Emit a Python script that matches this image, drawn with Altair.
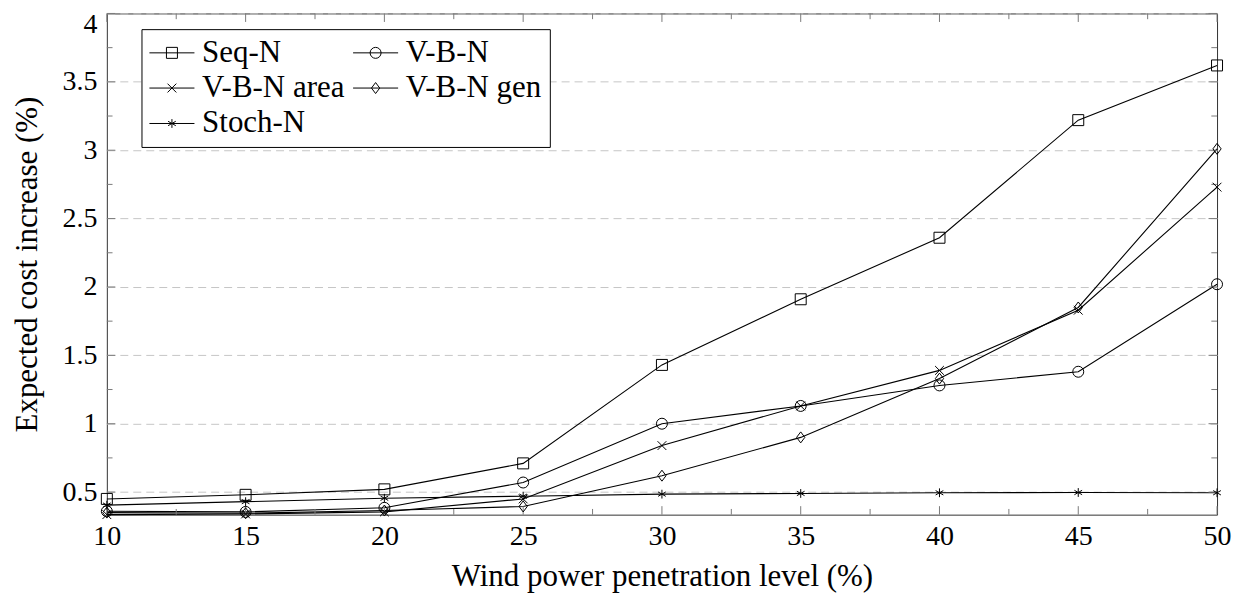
import altair as alt
import pandas as pd

# ---------------- data ----------------
x_levels = [10, 15, 20, 25, 30, 35, 40, 45, 50]
series_names = ["Seq-N", "V-B-N", "V-B-N area", "V-B-N gen", "Stoch-N"]
seq_n = [0.45, 0.48, 0.52, 0.71, 1.43, 1.91, 2.36, 3.22, 3.62]
vbn = [0.36, 0.355, 0.385, 0.57, 1.00, 1.13, 1.28, 1.38, 2.02]
vbn_area = [0.335, 0.34, 0.355, 0.45, 0.84, 1.13, 1.39, 1.83, 2.73]
vbn_gen = [0.35, 0.345, 0.365, 0.395, 0.62, 0.90, 1.33, 1.85, 3.01]
stoch_n = [0.405, 0.43, 0.455, 0.47, 0.485, 0.49, 0.495, 0.497, 0.495]

x_ticks = [10, 15, 20, 25, 30, 35, 40, 45, 50]
x_minor = [12.5, 17.5, 22.5, 27.5, 32.5, 37.5, 42.5, 47.5]
y_ticks = [0.5, 1, 1.5, 2, 2.5, 3, 3.5, 4]
y_minor = [0.75, 1.25, 1.75, 2.25, 2.75, 3.25, 3.75]
x_title = "Wind power penetration level (%)"
y_title = "Expected cost increase (%)"

all_series = [seq_n, vbn, vbn_area, vbn_gen, stoch_n]
rows = []
for name, vals in zip(series_names, all_series):
    for xv, yv in zip(x_levels, vals):
        rows.append({"level": xv, "cost": yv, "series": name})
df = pd.DataFrame(rows)

# ---------------- styling ----------------
FONT = "Liberation Serif, DejaVu Serif, serif"
W, H = 1112, 502
y_min = min(min(v) for v in all_series)

marker_paths = [
    "M-1,-1L1,-1L1,1L-1,1Z",                                   # square
    "M1,0A1,1,0,1,1,-1,0A1,1,0,1,1,1,0Z",                      # circle
    "M-0.8,-0.8L0.8,0.8M-0.8,0.8L0.8,-0.8",                    # x
    "M0,-1L0.75,0L0,1L-0.75,0Z",                               # diamond
    "M0,-0.8L0,0.8M-0.7,-0.4L0.7,0.4M-0.7,0.4L0.7,-0.4",       # asterisk
]
legend_paths = ["M-4.1,0L4.1,0" + p for p in marker_paths]

xscale = alt.Scale(domain=[10, 50], nice=False, zero=False)
yscale = alt.Scale(domain=[y_min, 4], nice=False, zero=False)

TICK_COLOR = "#7a7a7a"
MAJ, MIN = 8.5, 5.7

base = alt.Chart(df)

lines = base.mark_line(color="black", strokeWidth=1.1).encode(
    x=alt.X("level:Q", scale=xscale,
            axis=alt.Axis(orient="bottom", values=x_ticks, ticks=False, domain=False,
                          grid=False, labelFont=FONT, labelFontSize=28,
                          labelColor="black", labelPadding=8, labelFlush=False,
                          labelOverlap=False, title=x_title, titleFont=FONT,
                          titleFontSize=31, titleFontWeight="normal",
                          titleColor="black", titleBaseline="alphabetic",
                          titleY=71)),
    y=alt.Y("cost:Q", scale=yscale,
            axis=alt.Axis(orient="left", values=y_ticks, format=".1~f", ticks=False,
                          domain=False, grid=True, gridColor="#c6c6c6",
                          gridDash=[8, 5], gridWidth=1, labelFont=FONT,
                          labelFontSize=28, labelColor="black", labelPadding=10,
                          labelOverlap=False, labelFlush=True, labelFlushOffset=3,
                          title=y_title, titleFont=FONT, titleFontSize=31,
                          titleFontWeight="normal", titleColor="black",
                          titleAngle=270, titleAlign="center",
                          titleBaseline="alphabetic", titleX=-70, titleY=H / 2)),
    detail="series:N",
    order="level:Q",
)

points = base.mark_point(filled=False, color="black", size=121, strokeWidth=1,
                         opacity=1).encode(
    x=alt.X("level:Q", scale=xscale, axis=None),
    y=alt.Y("cost:Q", scale=yscale, axis=None),
    shape=alt.Shape("series:N", scale=alt.Scale(domain=series_names, range=marker_paths),
                    legend=None),
)

legend_layer = base.transform_filter("false").mark_point(
    filled=False, color="black", size=121, strokeWidth=1, opacity=1).encode(
    x=alt.X("level:Q", scale=xscale, axis=None),
    y=alt.Y("cost:Q", scale=yscale, axis=None),
    shape=alt.Shape("series:N", scale=alt.Scale(domain=series_names, range=legend_paths),
                    legend=alt.Legend(title=None, orient="none", legendX=34.7,
                                      legendY=15.7, columns=2, direction="horizontal",
                                      symbolSize=121, symbolOffset=7,
                                      symbolStrokeWidth=1, symbolStrokeColor="black",
                                      symbolFillColor="transparent",
                                      labelFont=FONT, labelFontSize=31,
                                      labelColor="black", labelOffset=14.7,
                                      labelLimit=400, rowPadding=3.5,
                                      columnPadding=5, padding=8,
                                      strokeColor="black", fillColor="white")),
)


def xticks_layer(values, size, at_top):
    y0 = 0 if at_top else H
    y1 = size if at_top else H - size
    return alt.Chart(pd.DataFrame({"v": values})).mark_rule(
        color=TICK_COLOR, strokeWidth=1).encode(
        x=alt.X("v:Q", scale=xscale, axis=None),
        y=alt.value(y0), y2=alt.value(y1))


def yticks_layer(values, size, at_right):
    x0 = W if at_right else 0
    x1 = W - size if at_right else size
    return alt.Chart(pd.DataFrame({"v": values})).mark_rule(
        color=TICK_COLOR, strokeWidth=1).encode(
        y=alt.Y("v:Q", scale=yscale, axis=None),
        x=alt.value(x0), x2=alt.value(x1))


tick_layers = [
    xticks_layer(x_ticks, MAJ, False), xticks_layer(x_minor, MIN, False),
    xticks_layer(x_ticks, MAJ, True), xticks_layer(x_minor, MIN, True),
    yticks_layer(y_ticks, MAJ, False), yticks_layer(y_minor, MIN, False),
    yticks_layer(y_ticks, MAJ, True), yticks_layer(y_minor, MIN, True),
]

chart = alt.layer(lines, *tick_layers, points, legend_layer).resolve_scale(
    shape="independent"
).resolve_axis(
    x="independent", y="independent"
).properties(
    width=W, height=H,
    autosize=alt.AutoSizeParams(type="none"),
    padding={"left": 99, "top": 5, "right": 20, "bottom": 80},
).configure_view(stroke="#333333", strokeWidth=1)

chart.save("out.html", embed_options={"renderer": "svg", "actions": False})
